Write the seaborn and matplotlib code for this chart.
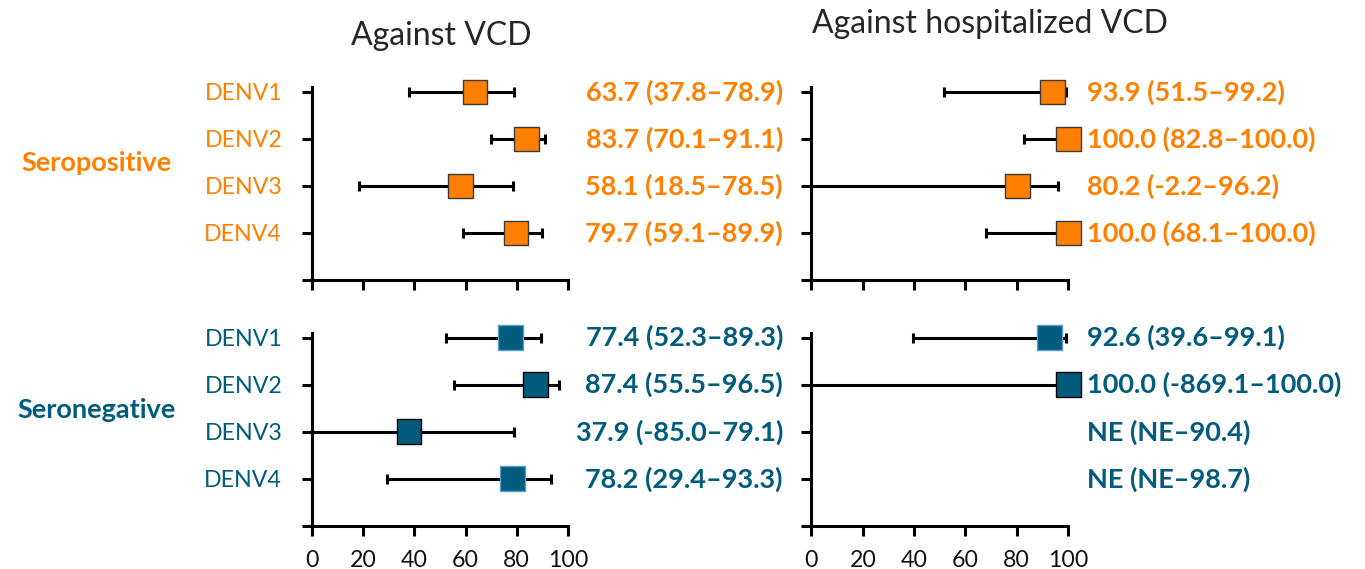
import numpy as np
import pandas as pd
import matplotlib
matplotlib.use("Agg")
import matplotlib.pyplot as plt
import seaborn as sns

# Data
serotypes = ["DENV1", "DENV2", "DENV3", "DENV4"]

vcd_pos_est = [63.7, 83.7, 58.1, 79.7]
vcd_pos_lo = [37.8, 70.1, 18.5, 59.1]
vcd_pos_hi = [78.9, 91.1, 78.5, 89.9]

vcd_neg_est = [77.4, 87.4, 37.9, 78.2]
vcd_neg_lo = [52.3, 55.5, -85.0, 29.4]
vcd_neg_hi = [89.3, 96.5, 79.1, 93.3]

hosp_pos_est = [93.9, 100.0, 80.2, 100.0]
hosp_pos_lo = [51.5, 82.8, -2.2, 68.1]
hosp_pos_hi = [99.2, 100.0, 96.2, 100.0]

# NE = not estimable
hosp_neg_est = [92.6, 100.0, np.nan, np.nan]
hosp_neg_lo = [39.6, -869.1, np.nan, np.nan]
hosp_neg_hi = [99.1, 100.0, 90.4, 98.7]

x_ticks = [0, 20, 40, 60, 80, 100]

ORANGE = "#FF8000"
TEAL = "#005B7D"
LIGHT_EDGE = "#5B9BD5"

sns.set_style("ticks")
plt.rcParams["font.family"] = ["Lato", "DejaVu Sans"]

LW = 2.2


def fmt(v):
    return "NE" if np.isnan(v) else f"{v:.1f}"


def panel(ax, est, lo, hi, color, edges, text_x, ha, show_xlabels):
    rows = np.arange(1, len(serotypes) + 1)
    df = pd.DataFrame({"row": rows, "est": est, "lo": lo, "hi": hi})
    ok = df.dropna(subset=["est"])
    ax.errorbar(ok["est"], ok["row"],
                xerr=[ok["est"] - ok["lo"], ok["hi"] - ok["est"]],
                fmt="none", ecolor="black", elinewidth=LW,
                capsize=3.8, capthick=LW, zorder=2)
    sns.scatterplot(data=ok, x="est", y="row", marker="s", s=320,
                    color=color, edgecolor=[edges[i] for i in ok.index],
                    linewidth=1.0, zorder=3, ax=ax, legend=False, clip_on=False)
    for r, e, l, h in zip(rows, est, lo, hi):
        ax.text(text_x, r, f"{fmt(e)} ({fmt(l)}\u2013{fmt(h)})", color=color,
                fontsize=19.5, fontweight="bold", ha=ha, va="center",
                transform=ax.transData, clip_on=False)
    ax.set_xlim(0, 100)
    ax.set_ylim(5, 0.9)
    ax.set_xticks(x_ticks)
    ax.set_yticks([1, 2, 3, 4, 5])
    ax.set_xlabel("")
    ax.set_ylabel("")
    if show_xlabels:
        ax.set_xticklabels([str(t) for t in x_ticks], fontsize=16.7, color="#111111")
    else:
        ax.set_xticklabels([])
    sns.despine(ax=ax)
    for side in ["left", "bottom"]:
        ax.spines[side].set_linewidth(LW)
        ax.spines[side].set_color("black")
    ax.tick_params(axis="both", width=LW, length=7.5, color="black")
    ax.tick_params(axis="x", pad=10)
    ax.tick_params(axis="y", pad=14)


fig = plt.figure(figsize=(13.65, 5.69), dpi=100)
ax_tl = fig.add_axes([0.2286, 0.5079, 0.1875, 0.3387])
ax_tr = fig.add_axes([0.5945, 0.5079, 0.1880, 0.3387])
ax_bl = fig.add_axes([0.2286, 0.0756, 0.1875, 0.3392])
ax_br = fig.add_axes([0.5945, 0.0756, 0.1880, 0.3392])

pos_edges = ["#3a3a3a"] * 4
panel(ax_tl, vcd_pos_est, vcd_pos_lo, vcd_pos_hi, ORANGE, pos_edges, 184, "right", False)
panel(ax_tr, hosp_pos_est, hosp_pos_lo, hosp_pos_hi, ORANGE, pos_edges, 107.5, "left", False)
panel(ax_bl, vcd_neg_est, vcd_neg_lo, vcd_neg_hi, TEAL,
      [LIGHT_EDGE, "black", "black", LIGHT_EDGE], 184, "right", True)
panel(ax_br, hosp_neg_est, hosp_neg_lo, hosp_neg_hi, TEAL,
      [LIGHT_EDGE, "black", "black", "black"], 107.5, "left", True)

for ax, color in [(ax_tl, ORANGE), (ax_bl, TEAL)]:
    ax.set_yticklabels(serotypes + [""], fontsize=16.7, color=color)
for ax in [ax_tr, ax_br]:
    ax.set_yticklabels([])

fig.text(441 / 1365, 1 - 36 / 569, "Against VCD", fontsize=23, ha="center", va="center")
fig.text(990 / 1365, 1 - 24 / 569, "Against hospitalized VCD", fontsize=23,
         ha="center", va="center")
fig.text(97 / 1365, 1 - 163 / 569, "Seropositive", fontsize=19.5, fontweight="bold",
         color=ORANGE, ha="center", va="center")
fig.text(97 / 1365, 1 - 410 / 569, "Seronegative", fontsize=19.5, fontweight="bold",
         color=TEAL, ha="center", va="center")

fig.savefig("out.png", dpi=100)
